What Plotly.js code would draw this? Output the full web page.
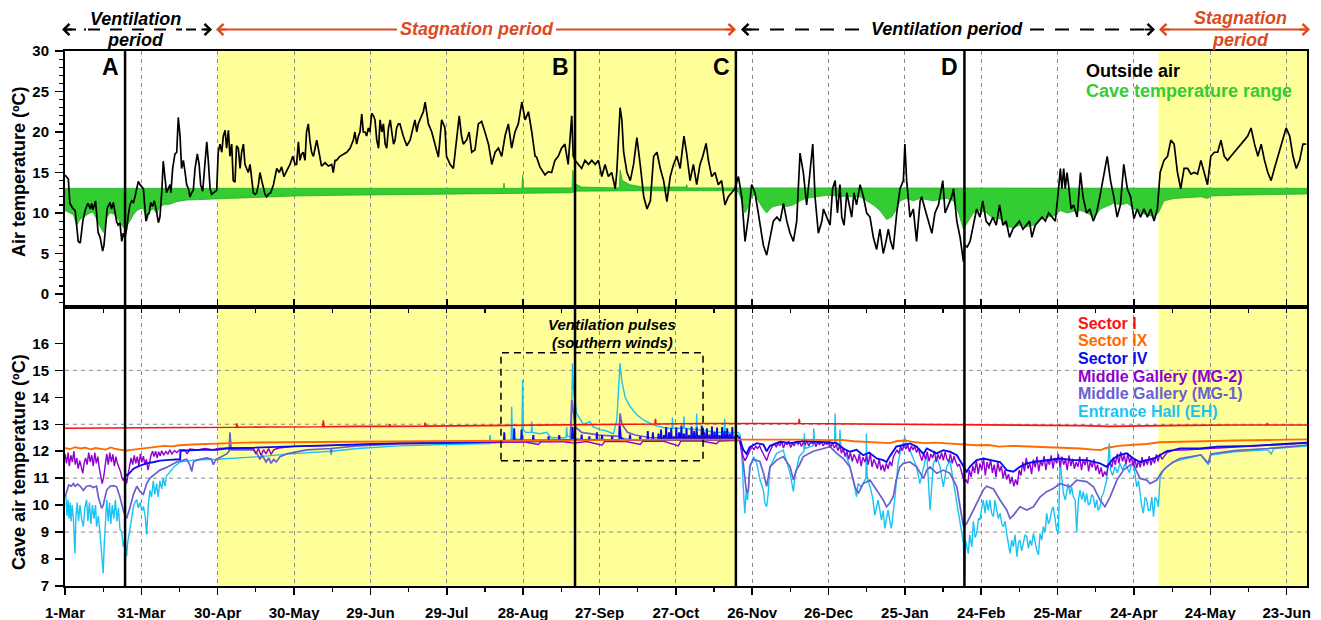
<!DOCTYPE html>
<html><head><meta charset="utf-8">
<script src="https://cdn.plot.ly/plotly-3.0.1.min.js"></script>
<style>html,body{margin:0;padding:0;background:#fff}#chart{width:1321px;height:620px}</style>
</head><body><div id="chart"></div>
<script>
// ---------- DATA (day offset from 1-Mar-2015, value in ºC) ----------
const outsideAir = [[0,14.7],[1.3,14.2],[1.9,11.2],[3,10.6],[4,10.3],[4.8,7.9],[5.2,6.5],[6,6.3],[6.5,7.5],[7,9.0],[8,10.4],[9,11.2],[10,10.5],[10.5,11.2],[11,10.4],[12,11.5],[12.4,10.0],[13,7.6],[13.8,7.0],[14.8,5.3],[15.3,6.0],[15.8,7.5],[16.6,10.6],[17.7,11.3],[18.3,10.5],[19,11.3],[19.6,10.3],[20.3,8.9],[20.9,8.5],[21.6,8.8],[22.3,6.5],[22.9,7.5],[23.6,7.0],[24.2,8.0],[24.9,9.8],[25.5,11.0],[26.2,11.5],[26.9,11.3],[27.5,12.0],[28.2,13.0],[28.8,13.9],[29.5,13.5],[30.8,13.0],[31.8,9.0],[32.4,9.8],[33.1,10.0],[33.7,11.3],[34.4,10.8],[35.1,11.5],[35.8,10.5],[36.7,8.8],[37.3,9.5],[38,12.5],[38.6,16.4],[39.3,14.5],[39.9,12.5],[40.6,13.0],[41.3,13.5],[41.6,12.5],[42.3,15.5],[43.2,17.3],[43.9,17.5],[44.5,21.8],[45.2,19.5],[45.8,15.5],[46.5,16.5],[47.2,15.0],[47.8,13.5],[48.5,13.0],[49.1,12.0],[49.8,12.5],[50.4,12.8],[51.1,15.5],[52,17.3],[52.7,16.0],[53.3,13.5],[54.1,12.7],[55,16.5],[55.7,18.8],[56.3,16.5],[57,13.0],[57.6,12.3],[58.5,12.5],[59.6,12.8],[60.2,17.5],[60.9,18.5],[61.6,17.5],[62.2,19.5],[62.9,20.2],[63.5,18.0],[64.2,20.2],[64.8,17.0],[65.5,18.5],[66.1,14.0],[66.8,13.8],[67.4,18.3],[68.1,18.0],[68.8,15.5],[69.4,17.5],[70.1,18.5],[70.7,16.0],[71.4,15.5],[72,15.0],[72.7,16.0],[73.3,14.5],[74,12.5],[74.7,12.3],[75.3,12.5],[76,13.5],[76.6,15.0],[77.3,14.0],[78,13.0],[78.6,12.3],[79.2,12.0],[79.9,12.3],[80.8,12.5],[81.9,13.5],[83.2,15.5],[84.2,15.0],[85.1,15.7],[86,14.5],[87.1,15.2],[88.4,16.0],[89.5,17.0],[90.4,16.0],[91,16.0],[91.7,18.8],[92.3,16.5],[93,17.3],[93.6,17.5],[94.3,16.5],[94.9,20.0],[95.6,21.0],[96.2,19.0],[96.9,17.5],[97.6,17.0],[98.2,18.0],[98.9,19.0],[99.5,18.0],[100.2,16.5],[100.8,15.8],[102.2,16.2],[103.5,15.8],[104.8,16.0],[105.4,15.0],[106.1,16.5],[106.7,16.5],[108,17.0],[109.4,17.3],[110.7,17.5],[112,18.0],[113.3,19.0],[113.9,20.0],[114.6,18.5],[115.3,19.5],[115.9,20.0],[116.6,22.2],[117.2,20.0],[117.9,20.0],[118.5,19.5],[119.2,20.5],[119.8,20.0],[120.5,22.3],[121.2,22.0],[121.8,21.5],[122.5,19.0],[123.2,18.0],[123.8,21.5],[124.5,20.0],[125.1,21.0],[125.8,18.5],[126.4,18.0],[127.1,20.5],[127.8,21.5],[128.4,20.0],[129.1,18.5],[129.7,19.0],[130.3,20.5],[131,21.0],[131.6,21.0],[133,19.4],[134.3,18.3],[135.6,19.0],[136.9,20.5],[137.5,21.5],[138.2,20.0],[138.8,21.0],[140.1,22.0],[140.8,22.5],[141.5,23.7],[142.8,21.0],[144.1,20.0],[145.4,18.5],[146.7,16.9],[148,21.5],[149.3,20.5],[149.9,17.0],[151.3,16.0],[152.6,15.5],[153.9,19.0],[154.9,22.0],[155.8,19.5],[156.5,18.5],[157.8,19.0],[158.8,20.0],[159.8,17.5],[161.1,17.8],[162.4,21.0],[163.7,21.3],[165,20.0],[166.4,18.5],[167.7,16.0],[169,17.5],[170.3,18.0],[171.6,17.0],[172.9,19.5],[174.2,21.0],[175.5,18.0],[176.8,20.0],[178.1,21.0],[179.5,23.7],[180.8,21.5],[182.1,22.5],[183.4,20.0],[184.7,17.0],[185.3,16.9],[186.6,15.7],[188.6,14.7],[189.9,15.1],[191.2,15.0],[192.5,16.5],[193.8,17.0],[195.1,18.0],[196.4,18.5],[197.7,16.0],[199.1,22.0],[199.7,17.0],[200.4,16.5],[201.7,16.0],[203,15.5],[204.3,16.5],[205.7,16.0],[207,16.5],[208.3,16.0],[209.6,16.5],[210.9,14.5],[212.2,16.0],[213.5,14.5],[214.8,15.0],[216.2,13.0],[216.8,15.0],[217.5,20.0],[218.1,23.0],[218.8,21.5],[219.5,17.5],[220.8,15.0],[222.1,14.0],[223.4,16.0],[224.7,19.3],[226,16.0],[227.4,12.0],[228.7,10.5],[230,11.5],[231.3,17.0],[232.6,17.5],[233.9,15.5],[235.2,14.0],[236.5,11.4],[237.8,14.5],[239.1,16.0],[240.4,17.0],[241.7,15.5],[243.2,19.5],[244.2,17.5],[245.6,14.0],[246.9,16.0],[248.2,13.5],[249.5,16.0],[250.6,17.0],[251.9,18.6],[252.8,16.5],[254.1,14.5],[255.4,15.0],[256.7,13.5],[258,14.0],[259.3,11.0],[260.6,12.0],[261.9,12.5],[263.2,13.0],[264.6,14.5],[265.9,12.0],[267.2,6.5],[268.5,9.5],[269.8,13.5],[271.1,12.5],[272.4,10.0],[274.4,6.0],[275.7,4.8],[277,7.0],[278.3,9.0],[279.7,9.5],[281,9.0],[282.3,11.2],[283.6,9.0],[284.9,7.5],[286.2,6.5],[287.5,9.0],[288.2,14.0],[288.8,17.4],[290.1,15.0],[290.8,12.5],[291.4,11.0],[292.7,15.0],[293.8,18.5],[294.7,12.0],[296,7.5],[297.4,9.0],[298,10.5],[299.3,9.5],[300.6,8.5],[301.6,13.0],[302.6,14.0],[303.5,10.0],[304.5,13.5],[305.2,9.5],[306.1,8.5],[307.2,12.5],[308.5,10.5],[309.1,9.5],[310,12.5],[311,11.0],[312.4,13.5],[313.7,12.0],[315,10.0],[316.3,9.5],[317.6,7.0],[318.9,5.5],[320.2,8.0],[321.5,5.0],[322.6,6.5],[323.5,8.0],[324.4,6.5],[325.4,5.5],[326.8,10.0],[328.1,13.0],[329.4,14.0],[330,18.5],[330.7,14.0],[332,9.5],[333.3,10.5],[334.6,6.5],[336,11.5],[336.6,12.0],[337.9,10.5],[339.3,9.0],[340.6,7.5],[341.8,10.0],[343.2,11.0],[344.9,14.0],[345.8,10.0],[347.1,11.0],[348.4,12.0],[349.1,13.0],[350.4,9.0],[351.7,7.0],[352.6,5.0],[353,4.0],[353.6,6.0],[354.5,5.8],[355.6,6.5],[356.9,8.5],[358.2,10.5],[359.5,9.5],[360.6,11.5],[361.9,9.0],[363.2,8.5],[364.6,9.5],[365.9,8.5],[367.2,11.0],[368.5,8.5],[369.8,9.0],[371.1,7.0],[372.4,8.0],[373.7,8.5],[375,9.0],[376.4,8.0],[377.7,8.5],[379,9.0],[379.9,7.0],[381.2,8.5],[382.6,9.0],[383.9,9.5],[385.2,9.0],[386.5,10.0],[387.8,9.5],[389.1,9.0],[390.4,13.0],[391.1,15.5],[391.7,13.0],[392.4,15.5],[393,13.0],[393.7,15.0],[394.3,13.5],[395.3,10.5],[396.3,11.0],[397.7,9.5],[399,15.0],[400,12.0],[401.4,10.0],[402.7,10.5],[404,9.0],[405.3,10.0],[406.6,12.0],[408.2,15.0],[409.5,17.0],[410.8,14.0],[412.1,12.0],[413.4,9.5],[414.7,11.0],[416,16.0],[417.4,13.0],[418.7,12.0],[420,9.3],[421.3,10.5],[422.6,9.5],[423.9,10.5],[425.3,9.5],[426.6,10.5],[427.9,9.0],[429.2,10.5],[430.3,15.0],[431.8,16.5],[433.2,17.0],[434.5,19.0],[435.8,18.5],[437.1,15.0],[438.4,13.0],[439.7,15.5],[441.1,15.5],[442.4,14.8],[443.7,15.0],[445,14.8],[446.3,16.5],[447.6,15.0],[448.9,13.5],[450.2,17.0],[451.6,17.5],[452.9,17.5],[454.2,19.0],[455.5,17.0],[456.8,16.5],[458.1,17.0],[459.5,17.5],[460.8,18.0],[462.1,18.5],[463.4,19.0],[464.7,19.5],[466,20.5],[467.4,18.5],[468.7,17.0],[470,18.5],[471.3,16.5],[472.6,15.0],[473.9,14.0],[475.2,15.5],[476.6,17.0],[477.9,18.5],[479.2,20.0],[479.8,20.5],[481.2,19.5],[482.5,17.0],[483.8,15.5],[485.1,16.5],[486.4,18.5],[487.7,18.5]];

const caveRangeMax = [[0,13.05],[172.2,13.05],[172.5,13.7],[172.8,13.05],[179.5,13.05],[179.8,14.7],[180.2,13.1],[199.2,13.1],[199.5,15.3],[200.5,13.6],[203,13.2],[217.8,13.1],[218.1,15.3],[219,14.0],[222,13.5],[227,13.2],[244,13.2],[244.3,13.5],[244.6,13.1],[488,13.05]];

const caveRangeMin = [[0,10.3],[1.9,10.0],[3.3,9.8],[4.6,8.5],[5.9,9.2],[7.2,9.5],[8.5,9.8],[9.8,10.0],[11.1,10.1],[12.4,9.3],[13.8,8.3],[15.1,7.6],[16.4,9.5],[17.7,10.0],[19,9.9],[20.3,9.5],[21.6,8.8],[22.9,8.2],[24.2,8.3],[25.5,9.0],[26.9,9.8],[28.2,10.3],[29.5,10.5],[30.8,10.6],[32.1,9.0],[33.4,10.3],[34.7,10.5],[36,10.0],[37.3,10.7],[38.6,11.0],[41.3,11.1],[43.9,11.4],[47.8,11.6],[53,11.7],[59.6,11.8],[70,11.9],[90,12.1],[110,12.2],[131,12.25],[150,12.3],[172,12.35],[180,12.45],[199,12.5],[201,12.7],[230,12.75],[263,12.75],[264.6,12.6],[265.9,11.5],[267.2,10.0],[268.5,10.8],[269.8,12.0],[271.1,12.3],[272.4,11.5],[274.4,10.5],[275.7,10.0],[277,10.5],[278.3,10.8],[281,11.0],[283.6,10.8],[286.2,11.0],[288.8,11.5],[291,11.8],[295.3,12.0],[299.3,12.2],[302,12.2],[308.5,12.0],[312.4,12.0],[315,11.5],[317.6,11.0],[320.2,10.3],[322.8,9.2],[324.8,9.5],[326.8,10.5],[328.1,11.5],[330.7,11.8],[333.3,11.5],[336,11.8],[338.6,11.7],[341.3,11.5],[343.9,11.7],[346.5,11.8],[349.1,11.5],[351.1,10.0],[353,8.0],[354.3,8.7],[356.9,10.0],[359.5,10.3],[362.1,10.0],[364.8,9.3],[367.4,9.3],[370,8.3],[372.6,8.2],[375.3,8.5],[377.9,8.3],[380.5,8.5],[383.2,9.2],[385.8,9.5],[388.4,9.6],[391.1,10.3],[393.7,10.0],[396.3,10.2],[399,10.3],[401.6,10.0],[404.3,9.5],[406.9,10.5],[409.5,10.8],[412.1,11.2],[414.7,11.0],[417.4,11.2],[420,10.5],[422.6,10.0],[425.3,9.8],[427.9,9.5],[429.6,10.0],[431.8,11.5],[435.8,11.8],[439.7,11.9],[446.3,12.0],[449,11.8],[450.2,12.1],[459.5,12.2],[472.6,12.3],[488,12.35]];

const sectorI = [[0,12.85],[20,12.86],[40,12.87],[60,12.89],[67.3,12.89],[67.5,13.03],[67.8,12.89],[80,12.9],[101.3,12.91],[101.5,13.15],[101.8,12.91],[115,12.92],[127.5,12.92],[127.7,13.0],[127.9,12.92],[141.3,12.93],[141.5,13.06],[141.7,12.93],[160,12.95],[180,12.97],[200,12.98],[220,13.0],[231.8,13.01],[232,13.2],[232.2,13.01],[250,13.03],[263,13.03],[280,13.03],[288.3,13.03],[288.5,13.2],[288.7,13.03],[300,13.02],[320,13.01],[340,13.0],[353,12.98],[360,12.98],[380,12.96],[400,12.95],[410,12.92],[420,12.94],[440,12.96],[460,12.97],[472.2,12.97],[472.4,13.05],[472.6,12.97],[488,12.97]];

const sectorIX = [[0,12.12],[2,12.08],[4,12.15],[6,12.1],[8,12.13],[10,12.07],[12,12.12],[14,12.1],[16,12.06],[18,12.14],[20,12.08],[22,12.05],[24,12.02],[26,12.05],[28,12.07],[30,12.1],[33,12.13],[36,12.17],[39,12.2],[42,12.18],[45,12.22],[50,12.25],[55,12.26],[60,12.28],[65,12.3],[70,12.32],[80,12.33],[90,12.34],[100,12.35],[120,12.36],[140,12.37],[160,12.38],[180,12.4],[200,12.41],[220,12.42],[240,12.43],[263,12.44],[280,12.44],[290,12.43],[300,12.41],[305,12.42],[310,12.37],[315,12.35],[320,12.32],[324,12.3],[327,12.38],[330,12.4],[334,12.33],[338,12.3],[342,12.32],[346,12.3],[350,12.28],[353,12.25],[358,12.22],[363,12.23],[367,12.17],[372,12.2],[378,12.18],[385,12.16],[392,12.15],[399,12.1],[404,12.06],[407,12.04],[409,12.12],[414,12.2],[420,12.24],[425,12.27],[430,12.33],[440,12.36],[450,12.38],[460,12.4],[475,12.42],[488,12.44]];

const sectorIV = [[23.6,11.18],[24.2,11.1],[25,11.15],[26.9,11.35],[29,11.45],[32,11.55],[35,11.6],[37.3,11.65],[41,11.68],[45.2,11.7],[45.4,12.02],[50.4,12.05],[55,12.06],[59.6,12.05],[63.5,12.1],[70,12.12],[80,12.15],[90,12.2],[100,12.22],[115,12.26],[131,12.3],[150,12.32],[170,12.35],[172.4,12.38],[172.6,12.7],[172.8,12.38],[176.3,12.4],[176.5,12.85],[176.7,12.4],[179.2,12.4],[179.4,12.8],[179.6,12.4],[183.8,12.4],[184,12.6],[184.2,12.4],[189.8,12.4],[190,12.55],[190.2,12.4],[194,12.42],[194.2,12.6],[194.4,12.42],[199.2,12.42],[199.4,12.9],[199.7,12.5],[200.5,12.45],[202.8,12.42],[203,12.62],[203.2,12.42],[205.8,12.42],[206,12.55],[206.2,12.42],[208.8,12.42],[209,12.7],[209.2,12.42],[210.8,12.42],[211,12.6],[211.2,12.42],[214.8,12.42],[215,12.55],[215.2,12.42],[217.8,12.42],[218,12.95],[218.4,12.5],[219.5,12.45],[221.8,12.42],[222,12.62],[222.2,12.42],[225.8,12.42],[226,12.55],[226.2,12.42],[228.8,12.42],[229,12.75],[229.2,12.42],[230.8,12.42],[231,12.7],[231.2,12.42],[233,12.42],[233.2,12.65],[233.4,12.42],[234,12.42],[234.2,12.8],[234.4,12.42],[235.1,12.42],[235.3,12.6],[235.5,12.42],[236,12.42],[236.2,12.9],[236.4,12.42],[237.1,12.42],[237.3,12.7],[237.5,12.42],[238,12.42],[238.2,12.85],[238.4,12.42],[239,12.42],[239.2,12.55],[239.4,12.42],[240,12.42],[240.2,12.88],[240.4,12.42],[241.1,12.42],[241.3,12.7],[241.5,12.42],[242,12.42],[242.2,12.95],[242.4,12.42],[243,12.42],[243.2,12.65],[243.4,12.42],[244,12.42],[244.2,12.85],[244.4,12.42],[245,12.42],[245.2,12.6],[245.4,12.42],[246,12.42],[246.2,12.92],[246.4,12.42],[247,12.42],[247.2,12.75],[247.4,12.42],[248,12.42],[248.2,12.88],[248.4,12.42],[249,12.42],[249.2,12.6],[249.4,12.42],[250,12.42],[250.2,12.95],[250.4,12.42],[251,12.42],[251.2,12.7],[251.4,12.42],[252,12.42],[252.2,12.85],[252.4,12.42],[253,12.42],[253.2,12.62],[253.4,12.42],[254,12.42],[254.2,12.92],[254.4,12.42],[255,12.42],[255.2,12.72],[255.4,12.42],[256,12.42],[256.2,12.88],[256.4,12.42],[257,12.42],[257.2,12.6],[257.4,12.42],[258,12.42],[258.2,12.9],[258.4,12.42],[259,12.42],[259.2,12.75],[259.4,12.42],[260,12.42],[260.2,12.85],[260.4,12.42],[261,12.42],[261.2,12.65],[261.4,12.42],[262,12.42],[262.2,12.9],[262.4,12.45],[263,12.5],[264,12.6],[265,12.5],[266.5,12.05],[267.8,11.9],[269,12.15],[271.8,12.3],[274.4,12.25],[275.7,12.0],[277,12.2],[281,12.35],[285,12.3],[290,12.38],[295,12.35],[300,12.33],[303.2,12.3],[305.8,12.1],[308.4,11.98],[311,12.05],[313.6,11.85],[316,11.95],[318.9,11.73],[321.5,11.67],[322.8,11.6],[324,11.8],[326.6,12.17],[329.4,12.23],[332,12.29],[334.6,12.17],[337.3,11.9],[338.6,12.1],[339.9,12.04],[342.5,11.92],[345.1,12.04],[347.7,11.98],[350.4,11.85],[353,11.43],[354.3,11.24],[355.6,11.43],[358.2,11.67],[360.8,11.73],[363.4,11.67],[367.4,11.6],[370,11.3],[372.6,11.24],[375.2,11.42],[377.9,11.55],[380.5,11.6],[385.7,11.67],[391,11.73],[396.2,11.67],[401.4,11.67],[406.7,11.55],[409.3,11.42],[411.9,11.73],[414.5,11.86],[417.2,11.92],[419.8,11.73],[422.4,11.6],[425,11.67],[427.7,11.73],[430.3,11.86],[432.9,12.0],[435.5,12.04],[438.1,12.1],[446,12.1],[453,12.17],[466,12.2],[479,12.27],[488,12.32]];

const middleGalleryMG2 = [[0,11.9],[0.6,11.55],[1.2,11.95],[1.7,11.45],[2.3,11.85],[2.9,11.6],[3.5,12.0],[4,11.5],[4.6,11.75],[5.2,11.35],[5.8,11.65],[6.4,11.4],[7,11.18],[7.5,11.55],[8.1,11.75],[8.7,11.5],[9.3,11.95],[9.9,11.6],[10.5,11.85],[11.1,11.45],[11.7,11.95],[12.3,11.55],[12.9,11.8],[13.5,11.35],[14.1,11.0],[14.6,10.8],[15.2,11.05],[15.8,11.6],[16.4,11.9],[17,11.5],[17.6,11.95],[18.2,11.6],[18.8,11.88],[19.4,11.45],[20,11.8],[20.6,11.55],[21.2,11.4],[21.8,11.25],[22.4,11.0],[23,10.9],[23.6,11.1],[24.2,10.8],[24.8,11.15],[25.4,11.4],[26,11.75],[26.6,11.5],[27.2,11.85],[27.8,11.55],[28.4,11.8],[29,11.45],[29.6,11.9],[30.2,11.6],[30.8,11.82],[31.4,11.5],[32,11.7],[32.6,11.3],[33.2,11.65],[33.8,11.85],[34.4,12.0],[35,11.8],[35.6,12.0],[36.2,11.75],[36.8,11.98],[37.4,11.82],[38,12.02],[38.8,11.85],[39.6,12.0],[40.4,11.88],[41.2,12.05],[42,11.9],[43,12.02],[44,11.95],[45,12.05],[47,12.05],[48,11.9],[49,12.08],[52,12.05],[55,12.1],[58,12.05],[60,12.1],[65,12.12],[70,12.12],[74,12.1],[75,11.9],[76,12.1],[77,11.85],[78,12.05],[79,11.9],[80,12.1],[81,11.88],[82,12.05],[84,12.12],[90,12.18],[100,12.2],[115,12.25],[131,12.28],[150,12.3],[172,12.33],[180,12.35],[186,12.25],[187,12.35],[195,12.36],[200,12.3],[205,12.36],[211,12.22],[212,12.36],[220,12.37],[226,12.25],[227,12.37],[235,12.38],[241,12.2],[242,12.38],[250,12.38],[256,12.28],[257,12.38],[263,12.4],[265,12.4],[266,12.0],[266.5,11.8],[267.2,11.65],[267.8,11.75],[268.5,11.9],[269.2,12.05],[270,12.15],[270.7,12.05],[271.4,12.2],[272.1,12.1],[272.9,12.2],[273.6,12.05],[274.4,11.9],[275,11.75],[275.7,11.65],[276.5,11.9],[277.3,12.1],[278,12.2],[278.7,12.28],[279.5,12.15],[280.2,12.33],[280.8,12.2],[281.6,12.36],[282.3,12.12],[283,12.3],[283.8,12.25],[284.4,12.38],[285.1,12.14],[285.9,12.3],[286.5,12.2],[287.2,12.37],[288,12.26],[288.7,12.35],[289.3,12.18],[290.1,12.32],[290.9,12.25],[291.5,12.39],[292.2,12.2],[293,12.34],[293.7,12.28],[294.3,12.38],[295,12.17],[295.8,12.33],[296.5,12.24],[297.1,12.37],[297.9,12.2],[298.6,12.3],[299.4,12.26],[300.1,12.36],[300.8,12.15],[301.5,12.3],[302.3,12.12],[303,12.25],[303.7,12.02],[304.4,12.2],[305.1,11.92],[305.8,12.12],[306.5,11.8],[307.2,12.0],[307.9,11.7],[308.6,11.95],[309.3,11.62],[310,11.88],[310.7,11.75],[311.4,11.55],[312.1,11.9],[312.8,11.45],[313.5,11.78],[314.3,11.6],[315,11.85],[315.6,11.5],[316.4,11.92],[317.1,11.42],[317.8,11.7],[318.5,11.55],[319.2,11.35],[319.9,11.72],[320.6,11.3],[321.3,11.5],[322,11.24],[322.7,11.55],[323.4,11.35],[324.1,11.62],[324.8,11.45],[325.5,11.8],[326.2,11.95],[326.9,12.05],[327.6,11.92],[328.3,12.18],[329,12.02],[329.7,12.22],[330.4,12.08],[331.1,12.25],[331.8,11.98],[332.5,12.2],[333.2,12.05],[333.9,12.18],[334.6,11.95],[335.3,12.1],[336,11.85],[336.7,11.65],[337.4,11.92],[338.1,11.7],[338.8,11.98],[339.5,11.62],[340.2,11.9],[340.9,11.75],[341.6,12.0],[342.3,11.6],[343,11.88],[343.7,11.7],[344.4,11.95],[345.1,11.66],[345.8,11.98],[346.5,11.72],[347.2,11.6],[347.9,11.9],[348.6,11.55],[349.3,11.82],[350,11.6],[350.7,11.45],[351.4,11.52],[352.1,11.25],[352.8,11.0],[353.4,10.85],[354,10.95],[354.7,10.8],[355.3,11.3],[356,11.05],[356.7,11.45],[357.4,11.2],[358.1,11.65],[358.8,11.15],[359.5,11.55],[360.2,11.3],[360.9,11.75],[361.6,11.1],[362.3,11.6],[363,11.35],[363.7,11.68],[364.4,11.2],[365.1,11.5],[365.8,11.05],[366.5,11.6],[367.2,11.25],[367.9,11.45],[368.6,11.0],[369.3,11.3],[370,10.95],[370.7,11.15],[371.4,10.8],[372.1,11.05],[372.8,10.7],[373.5,10.95],[374.2,10.75],[374.9,11.3],[375.6,11.1],[376.3,11.6],[377,11.25],[377.7,11.75],[378.4,11.35],[379.1,11.55],[379.8,11.15],[380.5,11.7],[381.2,11.4],[381.9,11.8],[382.6,11.25],[383.3,11.65],[384,11.45],[384.7,11.82],[385.4,11.3],[386.1,11.7],[386.8,11.5],[387.5,11.85],[388.2,11.35],[388.9,11.75],[389.6,11.55],[390.3,11.9],[391,11.4],[391.7,11.8],[392.4,11.5],[393.1,11.7],[393.8,11.3],[394.5,11.85],[395.2,11.45],[395.9,11.72],[396.6,11.35],[397.3,11.6],[398,11.42],[398.7,11.8],[399.4,11.3],[400.1,11.7],[400.8,11.48],[401.5,11.78],[402.2,11.25],[402.9,11.62],[403.6,11.4],[404.3,11.7],[405,11.28],[405.7,11.5],[406.4,11.15],[407.1,11.4],[407.8,11.05],[408.5,11.25],[409.2,11.1],[409.9,11.45],[410.6,11.6],[411.3,11.4],[412,11.75],[412.7,11.5],[413.4,11.9],[414.1,11.55],[414.8,11.98],[415.5,11.62],[416.2,11.85],[416.9,11.5],[417.6,11.92],[418.3,11.58],[419,11.8],[419.7,11.45],[420.4,11.72],[421.1,11.38],[421.8,11.65],[422.5,11.4],[423.2,11.78],[423.9,11.45],[424.6,11.7],[425.3,11.5],[426,11.82],[426.7,11.48],[427.4,11.75],[428.1,11.55],[428.8,11.88],[429.5,11.62],[430.2,11.9],[431,11.7],[433,11.95],[436,12.05],[440,12.04],[446,12.08],[453,12.12],[466,12.18],[479,12.25],[488,12.3]];

const middleGalleryMG1 = [[0,10.3],[0.6,10.5],[1.5,10.75],[2.5,10.7],[3.3,10.8],[4,10.7],[5,10.78],[6,10.7],[7.2,10.55],[8.5,10.7],[10,10.72],[11,10.65],[12.4,10.7],[13.1,10.3],[14.4,9.88],[15,10.0],[16.4,10.56],[17.7,10.7],[19,10.72],[20.3,10.68],[21.6,10.3],[22.9,9.8],[24.2,9.5],[25.5,9.9],[26.9,10.4],[28.2,10.7],[29.5,10.5],[30.8,10.4],[32.1,10.8],[33.4,11.0],[34.7,11.1],[37.3,11.3],[39.9,11.4],[43.9,11.6],[47.8,11.7],[49,11.5],[49.8,11.25],[50.5,11.6],[51.7,11.67],[55.7,11.75],[57.5,11.7],[58.3,11.5],[59,11.65],[59.6,11.7],[63.5,11.9],[64.5,12.0],[64.8,12.7],[65.3,12.05],[68.8,12.05],[74,12.05],[75.5,11.9],[76.6,11.7],[77.5,11.85],[79,11.6],[80,11.75],[81,11.55],[82,11.7],[83,11.6],[84.5,11.8],[87.1,11.9],[95,12.05],[104.4,12.1],[104.6,11.95],[104.8,12.1],[115,12.2],[131,12.27],[150,12.3],[172,12.33],[185,12.35],[198.5,12.38],[199.1,13.9],[199.6,13.5],[200.5,12.9],[203,12.7],[210,12.6],[217.6,12.55],[218.1,13.4],[218.8,13.0],[221,12.7],[224,12.6],[230,12.5],[263,12.5],[265,12.5],[266.5,11.55],[267.8,10.44],[268.5,10.55],[269.1,11.45],[270.5,11.7],[273,11.62],[274.4,11.2],[275.7,10.7],[277,11.42],[279.6,11.67],[282.2,11.8],[284.9,11.42],[286.2,10.93],[287.3,11.3],[288.5,11.48],[290.1,11.8],[294,12.0],[298,12.1],[300.6,12.17],[303.2,11.92],[305.8,11.73],[308.4,11.42],[310.4,10.68],[311.7,10.44],[313.6,10.8],[316.3,10.93],[318.9,10.56],[321.5,10.19],[322.8,9.94],[324,10.07],[325.4,10.3],[326.6,10.93],[328,11.42],[329.4,11.55],[332,11.6],[334.6,11.42],[337.3,10.99],[338.6,11.3],[339.9,11.42],[342.5,11.18],[345.1,11.3],[347.7,11.18],[350.4,10.68],[351.7,9.94],[353,9.2],[354.3,9.32],[355.6,9.57],[358.2,10.07],[360.8,10.56],[362.1,10.7],[364.8,10.6],[367.4,10.19],[370,9.82],[371.3,9.5],[372.6,9.62],[375.2,9.94],[377.9,9.82],[380.5,9.94],[383.1,10.3],[385.7,10.5],[388.3,10.62],[391,10.8],[394.9,10.68],[397.5,10.93],[401.4,10.87],[404.1,10.68],[406.7,10.19],[408.6,9.94],[410.6,10.3],[413.3,10.93],[415.9,11.3],[418.5,11.49],[419.8,11.55],[421.1,11.24],[422.4,10.99],[425,10.93],[426.4,10.8],[427.7,10.87],[429,10.93],[431,11.24],[432.9,11.42],[435.5,11.6],[438.1,11.73],[446.3,11.86],[449.2,11.55],[450.2,11.9],[459.5,12.02],[472.6,12.1],[488,12.23]];

const entranceHall = [[0,10.4],[0.4,10.3],[0.8,9.6],[1.2,10.2],[1.6,9.5],[2,10.1],[2.4,9.4],[2.8,10.0],[3.3,9.5],[3.9,8.2],[4.3,9.6],[4.8,10.1],[5.3,9.4],[5.9,10.0],[6.5,9.5],[7.2,9.2],[7.8,9.9],[8.5,10.2],[9,9.4],[9.6,10.1],[10.2,9.3],[10.8,10.0],[11.4,9.5],[12,10.0],[12.4,9.2],[13.1,9.6],[13.8,8.9],[14.5,8.0],[15,7.47],[15.4,8.5],[16,9.5],[16.4,10.2],[17,9.4],[17.5,10.1],[18,9.3],[18.6,10.0],[19.2,9.5],[19.8,10.2],[20.4,9.4],[21,9.9],[21.6,9.1],[22.3,9.0],[22.9,8.46],[23.6,8.7],[24.2,8.1],[24.6,8.6],[25.5,9.1],[26.2,9.6],[26.9,9.95],[27.5,10.1],[28.2,10.2],[28.8,9.9],[29.5,10.1],[30.2,9.8],[30.8,9.95],[31.5,9.6],[32.1,8.9],[32.7,10.0],[33.4,10.55],[34,10.3],[34.7,10.9],[35.3,10.4],[36,10.8],[36.6,10.3],[37.3,10.9],[38,10.6],[38.6,11.0],[39.3,10.7],[39.9,11.1],[41,11.2],[42.6,11.4],[45.2,11.6],[50.4,11.67],[59.6,11.7],[70,11.75],[76.6,11.8],[88.4,11.9],[104.4,12.0],[104.6,11.85],[104.8,12.0],[115,12.1],[131,12.2],[150,12.25],[166.8,12.28],[167,12.6],[167.3,12.3],[172,12.32],[175.3,12.35],[175.5,13.65],[175.8,12.45],[179.5,12.45],[179.8,14.64],[180.1,12.8],[181,12.7],[183.2,12.7],[183.4,13.1],[183.6,12.7],[186.6,12.65],[189.3,12.7],[191,12.5],[195,12.5],[196.9,12.5],[197.1,12.9],[197.4,12.55],[198.9,12.55],[199.4,15.26],[199.7,14.4],[201,13.4],[203.7,13.0],[206.3,13.1],[207.5,12.9],[210.2,12.8],[212.8,12.75],[215.5,12.65],[216.8,13.15],[218.1,15.26],[218.8,14.6],[220.1,14.0],[222.1,13.65],[224.7,13.35],[227.4,13.15],[231.3,12.97],[236.4,12.85],[238.5,12.85],[238.7,13.25],[238.9,12.85],[243,12.85],[243.2,13.3],[243.4,12.85],[248,12.8],[248.2,13.4],[248.4,12.8],[252,12.75],[256,12.7],[259,12.7],[259.2,13.2],[259.4,12.7],[262.6,12.7],[264.6,12.7],[265.3,12.6],[265.9,12.05],[266.5,10.68],[267.1,9.7],[267.6,10.44],[268.2,10.19],[269.1,11.42],[270.5,11.8],[271.8,11.55],[273.1,10.93],[274.4,10.56],[275,10.07],[275.7,9.94],[276.3,10.44],[277,11.42],[279.6,11.92],[282.2,12.04],[284.9,11.18],[286.2,10.5],[286.8,11.05],[288.5,11.8],[290.3,12.0],[290.5,12.66],[290.8,12.1],[292.9,12.17],[294,12.2],[294.2,12.85],[294.5,12.3],[295.5,12.3],[298.1,12.35],[300.6,12.35],[302.4,12.3],[302.6,13.4],[302.9,12.3],[304.3,12.2],[304.5,12.8],[304.8,12.2],[305.8,12.04],[307.1,11.8],[308.4,11.42],[309.7,10.93],[311,10.31],[311.6,10.8],[312.9,10.68],[314.7,11.0],[314.9,12.66],[315.2,11.0],[316.3,10.68],[317.3,10.3],[318.2,9.63],[319.5,10.19],[320.8,9.45],[321.5,9.8],[322.1,9.14],[323.4,9.82],[324.1,9.4],[324.7,9.14],[326,10.19],[327.3,11.55],[328.5,12.1],[329.4,12.29],[330,12.54],[330.5,12.2],[332,12.04],[334.6,11.42],[335.9,10.8],[337.3,11.42],[338.6,11.92],[339.9,9.82],[341.2,11.55],[342.5,11.8],[343.8,11.42],[345.1,10.68],[346.4,11.42],[347.7,11.67],[349,10.93],[350.4,10.19],[351.7,9.45],[353,8.58],[353.4,7.28],[353.8,8.7],[354.9,8.2],[355.5,8.9],[356.3,8.45],[356.9,9.4],[357.6,8.8],[358.2,8.95],[358.9,9.5],[359.5,9.45],[360.2,9.9],[360.8,10.19],[361.5,9.7],[362.1,10.19],[362.8,9.8],[363.4,10.2],[364.1,9.7],[364.8,9.57],[365.4,10.19],[366,9.8],[366.7,9.5],[367.4,9.7],[368.1,9.3],[368.7,9.2],[369.4,9.4],[370,8.95],[370.7,8.6],[371.3,8.21],[372,8.7],[372.6,8.45],[373.3,8.9],[374,8.09],[374.6,8.6],[375.2,8.7],[375.9,8.3],[376.5,8.6],[377.2,8.9],[377.9,8.83],[378.5,8.4],[379.2,8.7],[379.8,8.5],[380.5,8.95],[381.2,8.6],[381.8,8.33],[382.5,8.15],[383.1,8.95],[383.8,8.7],[384.4,9.2],[385.1,9.0],[385.7,9.7],[386.4,9.3],[387,9.45],[387.7,9.8],[388.3,9.94],[389,9.5],[389.6,9.08],[390.3,8.95],[391,11.67],[391.6,11.05],[392.3,10.44],[393,10.19],[393.6,10.5],[394.2,10.8],[394.9,10.4],[395.5,10.68],[396.2,10.3],[396.9,10.19],[397.5,9.0],[398.2,10.19],[398.8,10.56],[399.5,10.2],[400.1,10.5],[400.8,10.1],[401.4,10.44],[402.1,10.0],[402.8,10.07],[403.4,10.4],[404.1,10.3],[404.7,9.9],[405.4,10.19],[406,9.8],[406.7,9.94],[407.3,10.3],[408,10.44],[408.6,10.7],[409.3,10.93],[409.9,11.67],[410.3,12.29],[410.8,11.3],[411.6,11.1],[412.5,11.42],[413.5,11.2],[414.5,11.55],[415.5,11.3],[416.3,11.5],[417.2,11.42],[418.2,11.2],[419,11.5],[419.8,11.55],[420.5,11.1],[421.1,10.68],[421.8,10.9],[422.4,10.44],[423,10.0],[423.7,9.7],[424.4,10.3],[425,10.19],[425.7,9.8],[426.4,9.82],[427,10.3],[427.7,9.57],[428.3,10.3],[429,10.2],[429.6,9.94],[430.3,11.05],[431.6,11.3],[432.9,11.42],[434.2,11.5],[435.5,11.6],[438.1,11.67],[446.3,11.86],[449.2,11.5],[450.2,11.86],[459.5,11.98],[472.6,12.05],[473.9,11.9],[475,12.1],[488,12.19]];

const eventLabels = ['A','B','C','D'];
const eventDays = [23.6, 200.4, 263.6, 353.4];
const stagnationPeriods = [[60, 263.6], [429.6, 488]];
const caveGridValues = [9, 11, 13, 15];
const airTicks = [0,5,10,15,20,25,30];
const caveTicks = [7,8,9,10,11,12,13,14,15,16];

// ---------- helpers ----------
const START = Date.UTC(2015, 2, 1);
const DAY = 86400000;
function dayToDate(d){ return new Date(START + d*DAY).toISOString().slice(0,19).replace('T',' '); }
const xs = arr => arr.map(p => dayToDate(p[0]));
const ys = arr => arr.map(p => p[1]);

const W = 1321, H = 620, ML = 65, MR = 14, MT = 51, MB = 34;
const PW = W - ML - MR, PH = H - MT - MB;
const px = v => (v - ML) / PW;
const py = v => (H - MB - v) / PH;
const FONT = 'Arial, "Liberation Sans", Helvetica, sans-serif';
const SPLIT = 0.522;

const C = {red:'#ff1010', orange:'#ff6a00', blue:'#0a0af0', purple:'#9000d0', slate:'#6a5fcf', cyan:'#19c3f5', green:'#33cc33', stag:'#dc4a1e'};

// ---------- traces ----------
const bandX = xs(caveRangeMax).concat(xs(caveRangeMin).reverse());
const bandY = ys(caveRangeMax).concat(ys(caveRangeMin).reverse());
const traces = [
  {x: bandX, y: bandY, xaxis:'x2', yaxis:'y2', type:'scatter', mode:'lines', fill:'toself', fillcolor:C.green, line:{color:'#25b025', width:0.8}, hoverinfo:'skip', showlegend:false},
  {x: xs(outsideAir), y: ys(outsideAir), xaxis:'x2', yaxis:'y2', type:'scatter', mode:'lines', line:{color:'#000', width:1.7}, showlegend:false},
  {x: xs(entranceHall), y: ys(entranceHall), type:'scatter', mode:'lines', line:{color:C.cyan, width:1.4}, showlegend:false},
  {x: xs(middleGalleryMG1), y: ys(middleGalleryMG1), type:'scatter', mode:'lines', line:{color:C.slate, width:1.7}, showlegend:false},
  {x: xs(middleGalleryMG2), y: ys(middleGalleryMG2), type:'scatter', mode:'lines', line:{color:C.purple, width:1.4}, showlegend:false},
  {x: xs(sectorIV), y: ys(sectorIV), type:'scatter', mode:'lines', line:{color:C.blue, width:1.9}, showlegend:false},
  {x: xs(sectorIX), y: ys(sectorIX), type:'scatter', mode:'lines', line:{color:C.orange, width:1.9}, showlegend:false},
  {x: xs(sectorI), y: ys(sectorI), type:'scatter', mode:'lines', line:{color:C.red, width:1.6}, showlegend:false}
];

// ---------- shapes ----------
const shapes = [];
stagnationPeriods.forEach(p => shapes.push({type:'rect', xref:'x', yref:'paper', x0:dayToDate(p[0]), x1:dayToDate(p[1]), y0:0, y1:1, fillcolor:'#ffff99', line:{width:0}, layer:'below'}));
caveGridValues.forEach(v => shapes.push({type:'line', xref:'paper', yref:'y', x0:0, x1:1, y0:v, y1:v, line:{color:'#8a8a8a', width:1, dash:'4px,4px'}, layer:'below'}));
eventDays.forEach(d => shapes.push({type:'line', xref:'x', yref:'paper', x0:dayToDate(d), x1:dayToDate(d), y0:0, y1:1, line:{color:'#000', width:2.5}, layer:'above'}));
shapes.push({type:'rect', xref:'x', yref:'y', x0:dayToDate(171.3), x1:dayToDate(250.7), y0:11.65, y1:15.65, line:{color:'#000', width:1.5, dash:'7px,5px'}, fillcolor:'rgba(0,0,0,0)', layer:'above'});

// header arrows
const HY = py(29.5);
function hline(x0, x1, color, dash){ shapes.push({type:'line', xref:'paper', yref:'paper', x0:px(x0), x1:px(x1), y0:HY, y1:HY, line:{color:color, width:2, dash:dash||'solid'}}); }
hline(66, 86, '#000', '10px,8px'); hline(88, 182, '#000', '12px,10px'); hline(186, 208, '#000', '10px,8px');
hline(220, 397, C.stag); hline(556, 732, C.stag);
hline(745, 864, '#000', '14px,11px'); hline(1030, 1151, '#000', '14px,11px');
hline(1163, 1306, C.stag);

// ---------- annotations ----------
const ann = [];
function head(xTip, dir, color){ ann.push({xref:'paper', yref:'paper', x:px(xTip), y:HY, ax:-dir*12, ay:0, text:'', showarrow:true, arrowhead:4, arrowsize:1.1, arrowwidth:2, arrowcolor:color}); }
head(62, -1, '#000'); head(212, 1, '#000');
head(216, -1, C.stag); head(736, 1, C.stag);
head(741, -1, '#000'); head(1155, 1, '#000');
head(1159, -1, C.stag); head(1310, 1, C.stag);
function txt(x, y, s, size, color, anchor, extra){ ann.push(Object.assign({xref:'paper', yref:'paper', x:px(x), y:py(y), text:s, showarrow:false, xanchor:anchor||'center', yanchor:'middle', font:{family:FONT, size:size, color:color}}, extra||{})); }
txt(135, 19, '<b><i>Ventilation</i></b>', 18, '#000');
txt(135, 40, '<b><i>period</i></b>', 18, '#000');
txt(477, 29, '<b><i>Stagnation period</i></b>', 18, C.stag);
txt(947, 29, '<b><i>Ventilation period</i></b>', 18, '#000');
txt(1240, 18, '<b><i>Stagnation</i></b>', 18, C.stag);
txt(1240, 40, '<b><i>period</i></b>', 18, C.stag);

eventLabels.forEach((l, i) => ann.push({xref:'x', yref:'paper', x:dayToDate(eventDays[i]), y:py(67), text:'<b>'+l+'</b>', showarrow:false, xanchor:'right', yanchor:'middle', xshift:-4, font:{family:FONT, size:23, color:'#000'}}));

txt(612, 324, '<b><i>Ventilation pulses</i></b>', 15, '#000');
txt(612, 342, '<b><i>(southern winds)</i></b>', 15, '#000');

txt(1084, 71, '<b>Outside air</b>', 18, '#000', 'left');
txt(1084, 91, '<b>Cave temperature range</b>', 18, C.green, 'left');

const legendNames = ['Sector I','Sector IX','Sector IV','Middle Gallery (MG-2)','Middle Gallery (MG-1)','Entrance Hall (EH)'];
const legendColors = [C.red, C.orange, C.blue, C.purple, C.slate, C.cyan];
legendNames.forEach((n, i) => txt(1076, 323 + i*17.7, '<b>'+n+'</b>', 16, legendColors[i], 'left'));

txt(19, 172, '<b>Air temperature (ºC)</b>', 18, '#000', 'center', {textangle:-90});
txt(19, 462, '<b>Cave air temperature (ºC)</b>', 18, '#000', 'center', {textangle:-90});

// ---------- layout ----------
const tickFont = {family:FONT, size:15, color:'#000', weight:'bold'};
const xCommon = {type:'date', range:[dayToDate(0), dayToDate(488)], tick0:dayToDate(0), dtick:30*DAY, tickformat:'%-d-%b',
  showline:true, linewidth:2, linecolor:'#000', mirror:true, showgrid:true, gridcolor:'#8a8a8a', griddash:'4px,4px', gridwidth:1,
  zeroline:false, tickcolor:'#000', tickwidth:1.5, tickfont:tickFont};
const layout = {
  width:W, height:H, margin:{l:ML, r:MR, t:MT, b:MB}, paper_bgcolor:'#fff', plot_bgcolor:'rgba(0,0,0,0)', showlegend:false,
  font:{family:FONT, color:'#000'},
  xaxis: Object.assign({}, xCommon, {domain:[0,1], anchor:'y', ticks:'outside', ticklen:7, ticklabelstandoff:5,
    minor:{dtick:15*DAY, tick0:dayToDate(0), ticks:'outside', ticklen:4, tickcolor:'#000', tickwidth:1.2, showgrid:false}}),
  xaxis2: Object.assign({}, xCommon, {domain:[0,1], anchor:'y2', matches:'x', showticklabels:false, ticks:'inside', ticklen:8,
    minor:{dtick:15*DAY, tick0:dayToDate(0), ticks:'outside', ticklen:4, tickcolor:'#000', tickwidth:1.2, showgrid:false}}),
  yaxis: {domain:[0,SPLIT], anchor:'x', range:[7,17.36], tickmode:'array', tickvals:caveTicks, ticks:'outside', ticklen:8, tickwidth:1.5, tickcolor:'#000',
    showline:true, linewidth:2, linecolor:'#000', mirror:true, showgrid:false, zeroline:false, tickfont:tickFont, ticklabelstandoff:3},
  yaxis2: {domain:[SPLIT,1], anchor:'x2', range:[-1.57,30], tickmode:'array', tickvals:airTicks, ticks:'outside', ticklen:8, tickwidth:1.5, tickcolor:'#000',
    minor:{dtick:1, tick0:0, ticks:'outside', ticklen:4, tickcolor:'#000', tickwidth:1.2, showgrid:false},
    showline:true, linewidth:2, linecolor:'#000', mirror:true, showgrid:false, zeroline:false, tickfont:tickFont, ticklabelstandoff:3},
  shapes: shapes,
  annotations: ann
};
Plotly.newPlot('chart', traces, layout, {displayModeBar:false, staticPlot:true});
</script></body></html>
